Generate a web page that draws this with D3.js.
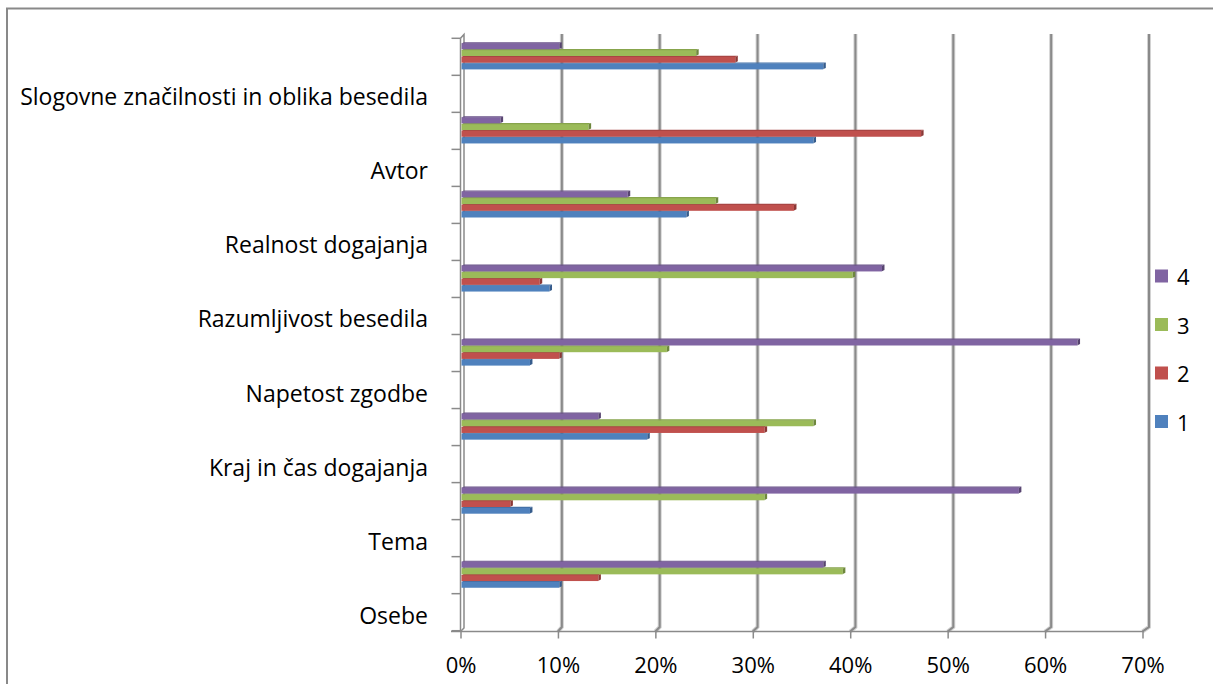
<!DOCTYPE html>
<html>
<head>
<meta charset="utf-8">
<script src="https://cdn.jsdelivr.net/npm/d3@7"></script>
<style>
  html, body { margin: 0; padding: 0; background: #fff; }
  svg { display: block; }
  text { font-family: "Open Sans", "Liberation Sans", sans-serif; fill: #000; }
</style>
</head>
<body>
<svg id="chart" width="1213" height="684"></svg>
<script>
// ---- data ----
const categories = ["Osebe", "Tema", "Kraj in čas dogajanja", "Napetost zgodbe",
  "Razumljivost besedila", "Realnost dogajanja", "Avtor",
  "Slogovne značilnosti in oblika besedila"];
const seriesNames = ["1", "2", "3", "4"];
const series1 = [10, 7, 19, 7, 9, 23, 36, 37];
const series2 = [14, 5, 31, 10, 8, 34, 47, 28];
const series3 = [39, 31, 36, 21, 40, 26, 13, 24];
const series4 = [37, 57, 14, 63, 43, 17, 4, 10];
const xTicks = [0, 0.1, 0.2, 0.3, 0.4, 0.5, 0.6, 0.7];

const seriesValues = [series1, series2, series3, series4];
const colors = {
  "1": { front: "#4F81BD", top: "#4371A8", side: "#365C8C" },
  "2": { front: "#C0504D", top: "#A94543", side: "#8C3836" },
  "3": { front: "#9BBB59", top: "#87A44C", side: "#6E873D" },
  "4": { front: "#8064A2", top: "#6A528A", side: "#574470" }
};

const svg = d3.select("#chart");

// ---- border ----
svg.append("path")
  .attr("d", "M7,700 V8.5 H1230")
  .attr("fill", "none").attr("stroke", "#898989").attr("stroke-width", 2);

// ---- scales ----
const xBack = d3.scaleLinear().domain([0, 0.7]).range([464, 1149]);
const xFront = d3.scaleLinear().domain([0, 0.7]).range([460.5, 1142.5]);
const xBar = d3.scaleLinear().domain([0, 70]).range([461.5, 1146]);

const yBand = d3.scaleBand()
  .domain(categories.slice().reverse())
  .range([38.3, 630.7])
  .paddingInner(0).paddingOuter(0);
const ySeries = d3.scaleBand()
  .domain(["4", "3", "2", "1"])
  .range([4, 30.8]);

// ---- gridlines (back wall, bending to floor front) ----
const grid = svg.append("g");
xTicks.filter(t => t > 0).forEach(t => {
  const d = `M${xBack(t)},34 V627 L${xFront(t)},631.5`;
  grid.append("path").attr("d", d).attr("fill", "none")
    .attr("stroke", "#d2d2d2").attr("stroke-width", 4);
  grid.append("path").attr("d", d).attr("fill", "none")
    .attr("stroke", "#8a8a8a").attr("stroke-width", 2);
});

// ---- left wall ----
const wall = svg.append("g").attr("fill", "none").attr("stroke", "#8a8a8a").attr("stroke-width", 1.5);
wall.append("path").attr("d", `M${xFront(0)},38.3 V631.5`);
wall.append("path").attr("d", `M${xFront(0)},38.3 L${xBack(0)},34.5 V628 L${xFront(0)},631.5`);
// floor front edge
wall.append("path").attr("d", `M451,631.5 H${xFront(0.7)} L${xBack(0.7)},627`);
// left ticks
const yTickPositions = d3.range(0, 17).map(k => 38.3 + k * (yBand.bandwidth() / 2));
wall.selectAll("line.ytick").data(yTickPositions).join("line")
  .attr("x1", 451.5).attr("x2", xFront(0))
  .attr("y1", d => d).attr("y2", d => d);

// ---- bars ----
const barsG = svg.append("g");
const depthX = 2.5, depthY = 1.2;
categories.forEach((cat, ci) => {
  seriesNames.forEach((s, si) => {
    const v = seriesValues[si][ci];
    const y0 = yBand(cat) + ySeries(s);
    const h = ySeries.bandwidth();
    const xl = xBar(0), xr = xBar(v);
    const c = colors[s];
    const g = barsG.append("g");
    g.append("rect").attr("x", xl).attr("y", y0 + depthY - 0.3)
      .attr("width", xr - xl).attr("height", h - depthY + 0.6).attr("fill", c.front);
    g.append("polygon")
      .attr("points", `${xl},${y0 + depthY} ${xr},${y0 + depthY} ${xr + depthX},${y0} ${xl + depthX},${y0}`)
      .attr("fill", c.top);
    g.append("polygon")
      .attr("points", `${xr},${y0 + depthY} ${xr + depthX},${y0} ${xr + depthX},${y0 + h - depthY} ${xr},${y0 + h}`)
      .attr("fill", c.side);
  });
});

// ---- category labels ----
svg.append("g").selectAll("text").data(categories).join("text")
  .attr("x", 428)
  .attr("y", d => yBand(d) + 58)
  .attr("text-anchor", "end")
  .attr("dominant-baseline", "central")
  .attr("font-size", 23)
  .text(d => d);

// ---- x axis (front of floor) ----
const xAxis = d3.axisBottom(xFront)
  .tickValues(xTicks)
  .tickFormat(d3.format(".0%"))
  .tickSize(7)
  .tickSizeOuter(0);
const axG = svg.append("g").attr("transform", "translate(0,631.5)").call(xAxis);
axG.select(".domain").remove();
axG.selectAll(".tick line").attr("stroke", "#8a8a8a").attr("stroke-width", 1.5);
axG.selectAll(".tick text")
  .attr("y", 41.5).attr("dy", 0)
  .attr("font-size", 22)
  .attr("font-family", "Open Sans, Liberation Sans, sans-serif")
  .attr("fill", "#000");

// ---- legend ----
const legendY = d3.scalePoint().domain(["4", "3", "2", "1"]).range([276, 421.5]);
const leg = svg.append("g");
["4", "3", "2", "1"].forEach(s => {
  leg.append("rect").attr("x", 1155).attr("y", legendY(s) - 6.5)
    .attr("width", 13).attr("height", 13).attr("fill", colors[s].front);
  leg.append("text").attr("x", 1177).attr("y", legendY(s))
    .attr("dominant-baseline", "central").attr("font-size", 22).text(s);
});
</script>
</body>
</html>
